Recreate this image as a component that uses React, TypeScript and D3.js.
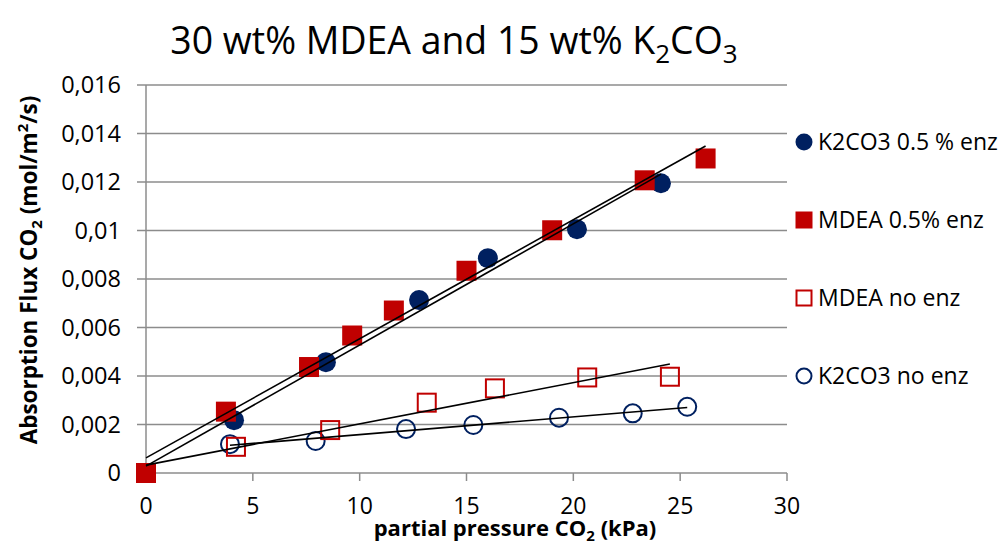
import * as d3 from 'd3';

// partial pressure CO2 (kPa) / absorption flux CO2 (mol/m2/s)
const k2co3EnzX = [0, 4.12, 8.42, 12.78, 16.0, 20.17, 24.1];
const k2co3EnzY = [0, 0.00218, 0.00457, 0.00713, 0.00886, 0.01005, 0.01195];
const mdeaEnzX = [0, 3.74, 7.63, 9.65, 11.6, 15.0, 19.01, 23.34, 26.19];
const mdeaEnzY = [0, 0.00253, 0.00437, 0.00567, 0.0067, 0.00834, 0.01001, 0.01207, 0.01297];
const mdeaNoX = [0, 4.21, 8.62, 13.14, 16.33, 20.65, 24.52];
const mdeaNoY = [0, 0.00108, 0.00177, 0.0029, 0.00349, 0.00394, 0.00397];
const k2co3NoX = [3.93, 7.94, 12.17, 15.32, 19.33, 22.78, 25.33];
const k2co3NoY = [0.00119, 0.00132, 0.00181, 0.00198, 0.00228, 0.00246, 0.00273];

const xTicks = [0, 5, 10, 15, 20, 25, 30];
const yTicks = [0, 0.002, 0.004, 0.006, 0.008, 0.01, 0.012, 0.014, 0.016];
const yTickLabels = ['0', '0,002', '0,004', '0,006', '0,008', '0,01', '0,012', '0,014', '0,016'];
const legendNames = ['K2CO3 0.5 % enz', 'MDEA 0.5% enz', 'MDEA no enz', 'K2CO3 no enz'];

const NAVY = '#002060';
const RED = '#C00000';
const FONT = "'Open Sans', 'Liberation Sans', sans-serif";

type Pt = { x: number; y: number };
const zip = (xs: number[], ys: number[]): Pt[] => xs.map((x, i) => ({ x, y: ys[i] }));

// least squares trendline over the series x-range
function fit(pts: Pt[]): Pt[] {
  const mx = d3.mean(pts, d => d.x)!;
  const my = d3.mean(pts, d => d.y)!;
  const sxy = d3.sum(pts, d => (d.x - mx) * (d.y - my));
  const sxx = d3.sum(pts, d => (d.x - mx) ** 2);
  const b = sxy / sxx;
  const a = my - b * mx;
  const [x0, x1] = d3.extent(pts, d => d.x) as [number, number];
  return [{ x: x0, y: a + b * x0 }, { x: x1, y: a + b * x1 }];
}

const series = [
  { name: legendNames[0], pts: zip(k2co3EnzX, k2co3EnzY), shape: 'circle', filled: true, color: NAVY },
  { name: legendNames[1], pts: zip(mdeaEnzX, mdeaEnzY), shape: 'square', filled: true, color: RED },
  { name: legendNames[2], pts: zip(mdeaNoX, mdeaNoY), shape: 'square', filled: false, color: RED },
  { name: legendNames[3], pts: zip(k2co3NoX, k2co3NoY), shape: 'circle', filled: false, color: NAVY },
];

function Marker({ cx, cy, shape, filled, color, size }: any) {
  const sw = filled ? 0 : 2;
  const s = filled ? size : size - sw;
  if (shape === 'circle') {
    return <circle cx={cx} cy={cy} r={s / 2} fill={filled ? color : 'none'} stroke={color} strokeWidth={sw} />;
  }
  return <rect x={cx - s / 2} y={cy - s / 2} width={s} height={s} fill={filled ? color : 'none'} stroke={color} strokeWidth={sw} />;
}

export default function App() {
  const W = 1001;
  const H = 541;
  const m = { l: 146, r: 787, t: 85, b: 473 };

  const x = d3.scaleLinear().domain([0, 30]).range([m.l, m.r]);
  const y = d3.scaleLinear().domain([0, 0.016]).range([m.b, m.t]);
  const line = d3.line<Pt>().x(d => x(d.x)).y(d => y(d.y));

  // circles underneath squares, as in the original
  const drawOrder = [series[3], series[0], series[1], series[2]];

  return (
    <svg width={W} height={H} viewBox={`0 0 ${W} ${H}`}
      style={{ position: 'absolute', left: 0, top: 0, background: '#fff' }} fontFamily={FONT}>
      <rect width={W} height={H} fill="#fff" />

      <text x={454} y={54} textAnchor="middle" fontSize={37.4} fill="#000">
        30 wt% MDEA and 15 wt% K<tspan fontSize={26} dy={9}>2</tspan>
        <tspan dy={-9}>CO</tspan><tspan fontSize={26} dy={9}>3</tspan>
      </text>

      {/* grid + y ticks */}
      {yTicks.map((t, i) => (
        <g key={t}>
          <line x1={m.l - 9} x2={m.r} y1={y(t)} y2={y(t)} stroke="#8c8c8c" strokeWidth={1.5} />
          <text x={121} y={y(t)} dy="0.36em" textAnchor="end" fontSize={23.5} fill="#000">{yTickLabels[i]}</text>
        </g>
      ))}
      <line x1={m.l} x2={m.l} y1={m.t} y2={m.b} stroke="#8c8c8c" strokeWidth={1.5} />
      {xTicks.map(t => (
        <g key={t}>
          <line x1={x(t)} x2={x(t)} y1={m.b} y2={m.b + 8} stroke="#8c8c8c" strokeWidth={1.5} />
          <text x={x(t)} y={514} textAnchor="middle" fontSize={23} fill="#000">{t}</text>
        </g>
      ))}

      <text x={515} y={536} textAnchor="middle" fontSize={22} fontWeight="bold" fill="#000">
        partial pressure CO<tspan fontSize={15} dy={5}>2</tspan><tspan dy={-5}> (kPa)</tspan>
      </text>
      <text transform="translate(37,270) rotate(-90)" textAnchor="middle" fontSize={22.5} fontWeight="bold" fill="#000">
        Absorption Flux CO<tspan fontSize={15} dy={5}>2</tspan><tspan dy={-5}> (mol/m</tspan>
        <tspan fontSize={15} dy={-9}>2</tspan><tspan dy={9}>/s)</tspan>
      </text>

      {/* markers */}
      {drawOrder.map(s => (
        <g key={s.name}>
          {s.pts.map((p, i) => (
            <Marker key={i} cx={x(p.x)} cy={y(p.y)} shape={s.shape} filled={s.filled} color={s.color} size={20} />
          ))}
        </g>
      ))}

      {/* trendlines */}
      {series.map(s => (
        <path key={s.name} d={line(fit(s.pts)) || ''} fill="none" stroke="#000" strokeWidth={1.6} />
      ))}

      {/* legend */}
      {series.map((s, i) => {
        const ly = 142 + i * 78;
        return (
          <g key={s.name}>
            <Marker cx={804} cy={ly} shape={s.shape} filled={s.filled} color={s.color} size={17} />
            <text x={818} y={ly} dy="0.36em" fontSize={23} fill="#000">{s.name}</text>
          </g>
        );
      })}
    </svg>
  );
}
